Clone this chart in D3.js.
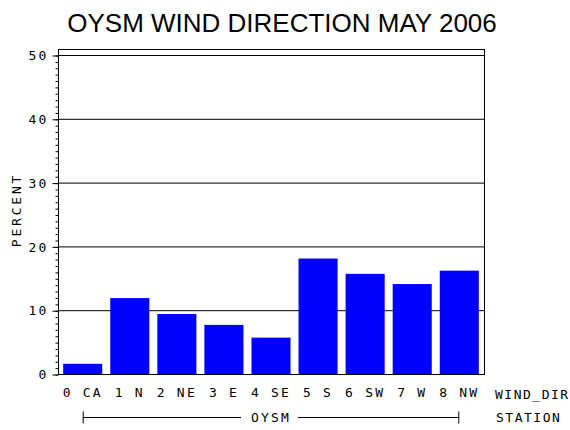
<!DOCTYPE html>
<html>
<head>
<meta charset="utf-8">
<script src="https://cdn.jsdelivr.net/npm/d3@7"></script>
<style>
  body { margin: 0; background: #fff; }
  text { fill: #000; }
  .mono { font-family: "DejaVu Sans Mono", monospace; font-size: 13px; letter-spacing: 2.2px; }
</style>
</head>
<body>
<div class="canvas"></div>
<script>
// data
const directions = ["0 CA", "1 N", "2 NE", "3 E", "4 SE", "5 S", "6 SW", "7 W", "8 NW"];
const percents = [1.6, 11.9, 9.4, 7.7, 5.7, 18.1, 15.7, 14.1, 16.2];
const yTicks = [0, 10, 20, 30, 40, 50];
const station = "OYSM";

const width = 570;
const height = 430;

const svg = d3
  .select(".canvas")
  .append("svg")
  .attr("width", width)
  .attr("height", height);

// plot frame
const plotLeft = 58, plotRight = 484, plotBottom = 374, plotTop = 49;

const x = d3
  .scaleBand()
  .domain(directions)
  .range([plotLeft, plotRight])
  .paddingInner(0.17)
  .paddingOuter(0.11);

const y = d3.scaleLinear().domain([0, 50]).range([plotBottom, 55]);

// title
svg.append("text")
  .attr("x", 282)
  .attr("y", 32)
  .attr("text-anchor", "middle")
  .attr("font-family", "Liberation Sans, Arial, sans-serif")
  .attr("font-size", 26)
  .text("OYSM WIND DIRECTION MAY 2006");

// gridlines
svg.append("g")
  .selectAll("line")
  .data(yTicks.filter((d) => d > 0))
  .enter()
  .append("line")
  .attr("x1", plotLeft)
  .attr("x2", plotRight)
  .attr("y1", (d) => y(d) + 0.5)
  .attr("y2", (d) => y(d) + 0.5)
  .attr("stroke", "#000");

// bars
svg.append("g")
  .selectAll("rect")
  .data(percents)
  .enter()
  .append("rect")
  .attr("x", (d, i) => x(directions[i]))
  .attr("width", x.bandwidth())
  .attr("y", (d) => y(d))
  .attr("height", (d) => plotBottom - y(d))
  .attr("fill", "#0000ff");

// frame
svg.append("rect")
  .attr("x", plotLeft + 0.5)
  .attr("y", plotTop + 0.5)
  .attr("width", plotRight - plotLeft)
  .attr("height", plotBottom - plotTop)
  .attr("fill", "none")
  .attr("stroke", "#000");

// y axis: minor ticks every 1, major every 10
const yAxisMinor = d3.axisLeft(y).tickValues(d3.range(0, 51, 1)).tickSize(3).tickFormat("");
const yAxis = d3.axisLeft(y).tickValues(yTicks).tickSize(6).tickPadding(4);

const yMinorGroup = svg.append("g").attr("transform", `translate(${plotLeft + 0.5},0.5)`).call(yAxisMinor);
const yAxisGroup = svg.append("g").attr("transform", `translate(${plotLeft + 0.5},0.5)`).call(yAxis);
[yMinorGroup, yAxisGroup].forEach((g) => {
  g.select(".domain").remove();
  g.selectAll("line").attr("stroke", "#000");
});
yAxisGroup.selectAll("text")
  .attr("class", "mono")
  .attr("font-family", null)
  .attr("font-size", null)
  .attr("fill", "#000");

svg.append("text")
  .attr("class", "mono")
  .attr("transform", `translate(21,210) rotate(-90)`)
  .attr("text-anchor", "middle")
  .style("letter-spacing", "2.8px")
  .text("PERCENT");

// x axis labels
const xAxis = d3.axisBottom(x).tickSize(0).tickPadding(14);
const xAxisGroup = svg.append("g").attr("transform", `translate(0,${plotBottom})`).call(xAxis);
xAxisGroup.select(".domain").remove();
xAxisGroup.selectAll("text")
  .attr("class", "mono")
  .attr("font-family", null)
  .attr("font-size", null)
  .attr("fill", "#000");

svg.append("text")
  .attr("class", "mono")
  .attr("x", 495)
  .attr("y", 399)
  .style("letter-spacing", "1.5px")
  .text("WIND_DIR");

// station bracket
const sx1 = x(directions[0]) + x.bandwidth() / 2;
const sx2 = x(directions[directions.length - 1]) + x.bandwidth() / 2;
const sy = 417.5;
const labelMid = (sx1 + sx2) / 2;
const bracket = svg.append("g").attr("stroke", "#000");
bracket.append("line").attr("x1", sx1).attr("x2", labelMid - 30).attr("y1", sy).attr("y2", sy);
bracket.append("line").attr("x1", labelMid + 27).attr("x2", sx2).attr("y1", sy).attr("y2", sy);
bracket.append("line").attr("x1", sx1 + 0.5).attr("x2", sx1 + 0.5).attr("y1", sy - 6).attr("y2", sy + 6);
bracket.append("line").attr("x1", sx2 - 0.5).attr("x2", sx2 - 0.5).attr("y1", sy - 6).attr("y2", sy + 6);

svg.append("text")
  .attr("class", "mono")
  .attr("x", labelMid)
  .attr("y", 422)
  .attr("text-anchor", "middle")
  .text(station);

svg.append("text")
  .attr("class", "mono")
  .attr("x", 496)
  .attr("y", 422)
  .style("letter-spacing", "1.5px")
  .text("STATION");
</script>
</body>
</html>
